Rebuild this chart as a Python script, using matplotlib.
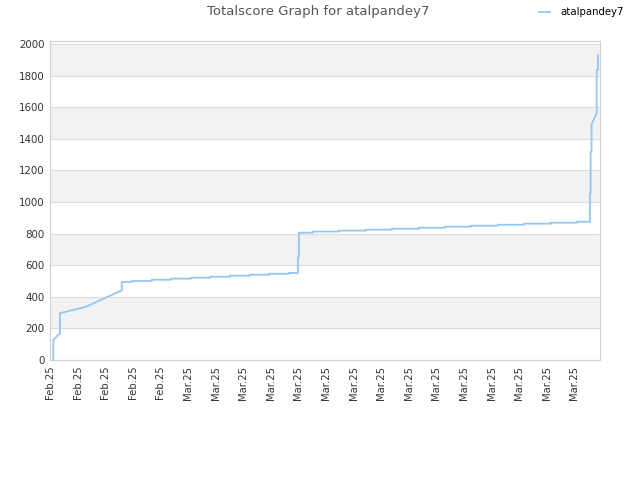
import matplotlib
matplotlib.use('Agg')
import matplotlib.pyplot as plt
import numpy as np

# score history, x in days since the first tick (ticks every 2 days)
days = [0.2, 0.24, 0.24, 0.65, 0.72, 0.72, 0.85, 2.54, 5.2, 5.2,
        5.92, 5.92, 7.37, 7.37, 8.77, 8.77, 10.22, 10.22, 11.59, 11.59,
        13.04, 13.04, 14.49, 14.49, 15.87, 15.87, 17.32, 17.32, 17.97, 17.97,
        18.04, 18.04, 19.04, 19.04, 20.94, 20.94, 22.9, 22.9, 24.78, 24.78,
        26.74, 26.74, 28.62, 28.62, 30.51, 30.51, 32.46, 32.46, 34.35, 34.35,
        36.3, 36.3, 38.19, 38.19, 39.13, 39.13, 39.18, 39.18, 39.25, 39.25,
        39.62, 39.62, 39.71, 39.71]
scores = [0, 5, 126, 164, 164, 297, 299, 335, 440, 494,
          494, 500, 500, 508, 508, 515, 515, 521, 521, 527,
          527, 534, 534, 540, 540, 546, 546, 551, 551, 650,
          650, 806, 806, 813, 813, 819, 819, 825, 825, 831,
          831, 837, 837, 844, 844, 850, 850, 856, 856, 863,
          863, 869, 869, 875, 875, 1055, 1055, 1318, 1318, 1492,
          1561, 1835, 1835, 1930]

tick_labels = ['Feb.25'] * 5 + ['Mar.25'] * 15
tick_pos = np.arange(len(tick_labels)) * 2
y_ticks = np.arange(0, 2001, 200)

fig = plt.figure(figsize=(6.4, 4.8), dpi=100)
ax = fig.add_axes([50/640, 1 - 360/480, 550/640, (360 - 40.7)/480])

ymax = 2021
# alternating background bands
for i, lo in enumerate(y_ticks):
    if i % 2 == 1:
        ax.axhspan(lo, min(lo + 200, ymax), color='#f2f2f2', lw=0, zorder=0)
for y in y_ticks:
    ax.axhline(y, color='#dcdcdc', lw=0.8, zorder=1)

ax.plot(days, scores, color='#94c6f2', lw=1.3, label='atalpandey7', zorder=3)

ax.set_xlim(0, 39.86)
ax.set_ylim(0, ymax)
ax.set_xticks(tick_pos)
ax.set_xticklabels(tick_labels, rotation=90, fontsize=7.2, color='#333333')
ax.set_yticks(y_ticks)
ax.set_yticklabels([str(v) for v in y_ticks], fontsize=7.4, color='#333333')
ax.tick_params(length=0, pad=4)
for s in ax.spines.values():
    s.set_color('#d0d0d0')
    s.set_linewidth(0.8)

fig.text(0.497, 0.975, 'Totalscore Graph for atalpandey7', ha='center', va='center',
         fontsize=9.5, color='#555555')
ax.legend(loc='upper right', bbox_to_anchor=(0.975, 0.985), bbox_transform=fig.transFigure,
          frameon=False, fontsize=7.3, handlelength=1.1, handletextpad=1.0,
          borderpad=0, borderaxespad=0)

fig.savefig('out.png', dpi=100)
